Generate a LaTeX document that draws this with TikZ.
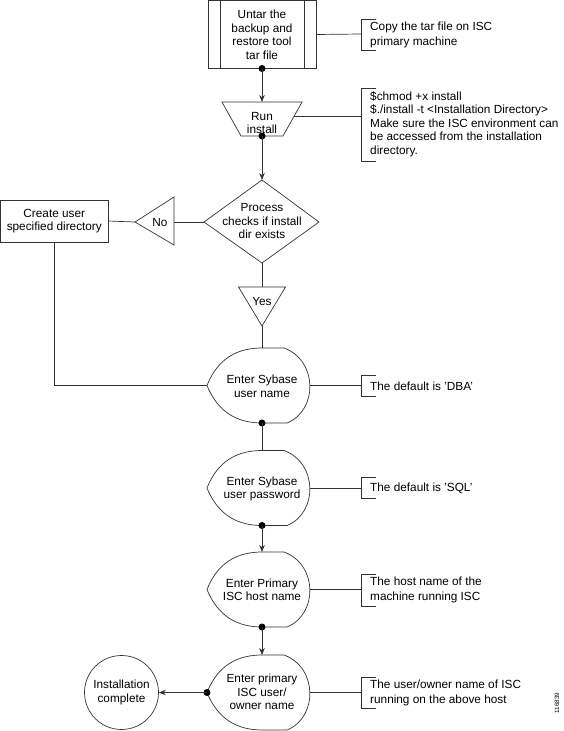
\documentclass[tikz,border=0pt]{standalone}
\usepackage{fontspec}
\setmainfont{Liberation Sans}
\usetikzlibrary{arrows.meta}
\newcommand\notebrk[2]{\draw[ln] (376,#1) -- (361,#1) -- (361,#2) -- (376,#2);}
\begin{document}
\begin{tikzpicture}[x=1pt,y=-1pt,
  ln/.style={draw=black!80,line width=0.7pt},
  txt/.style={font=\fontsize{11.8}{13.5}\selectfont,align=center,inner sep=0pt},
  notetxt/.style={font=\fontsize{11.8}{13.5}\selectfont,align=left,anchor=west,inner sep=0pt},
  notetxtw/.style={font=\fontsize{11.8}{14.5}\selectfont,align=left,anchor=west,inner sep=0pt},
  arr/.style={ln,-{Stealth[length=7pt,width=5.5pt]}},
  dotn/.style={circle,fill=black,inner sep=0pt,minimum size=7pt},
  egg/.pic={
    \draw[ln] (0,-37.5) -- (22,-37.5) .. controls (56,-25) and (56,25) .. (25,37.5) -- (0,37.5)
      .. controls (-32,37.5) and (-47,19.5) .. (-55,0) .. controls (-47,-20) and (-32,-37.5) .. (0,-37.5) -- cycle;
    \coordinate (-top) at (0,-37.5);
    \coordinate (-bot) at (0,37.5);
    \coordinate (-left) at (-55,0);
    \coordinate (-right) at (47.9,0);
  }]
\useasboundingbox (0,0) rectangle (563,731);

% Untar box
\node (untar) at (262,34.5) [txt,draw=black!80,line width=0.7pt,minimum width=108pt,minimum height=68pt] {};
\node (untart) at (262,35) [txt] {Untar the\\backup and\\restore tool\\tar file};
\draw[ln] ([xshift=13pt]untar.north west) -- ([xshift=13pt]untar.south west);
\draw[ln] ([xshift=-12pt]untar.north east) -- ([xshift=-12pt]untar.south east);
\node (d1) at (262,68.5) [dotn] {};

% Run install trapezoid
\draw[ln] (222,102) -- (302,102) -- (283,136) -- (241,136) -- cycle;
\node (run) at (262,123) [txt] {Run\\install};
\coordinate (runT) at (262,102);
\coordinate (runR) at (294,116);
\node (d2) at (262,136) [dotn] {};

% Diamond
\draw[ln] (262,180) -- (319,222) -- (262,263) -- (204,222) -- cycle;
\node (proc) at (262,221) [txt] {Process\\checks if install\\dir exists};
\coordinate (dT) at (262,180);
\coordinate (dL) at (204,222);
\coordinate (dB) at (262,263);

% No triangle
\draw[ln] (135,222) -- (174,197) -- (174,245) -- cycle;
\node (no) at (160,222) [txt] {No};
\coordinate (noR) at (174,222);
\coordinate (noL) at (135,222);

% Create user box
\node (create) at (54.3,221) [txt,draw=black!80,line width=0.7pt,minimum width=107.5pt,minimum height=42pt] {Create user\\specified directory};

% Yes triangle
\draw[ln] (238.5,287) -- (285.5,287) -- (262,326) -- cycle;
\node (yes) at (262,301) [txt] {Yes};
\coordinate (yesT) at (262,287);
\coordinate (yesB) at (262,326);

% Eggs
\pic (s1) at (262,385.5) {egg};
\node (s1t) at (262,386.5) [txt] {Enter Sybase\\user name};
\pic (s2) at (262,488) {egg};
\node (s2t) at (262,489) [txt] {Enter Sybase\\user password};
\pic (s3) at (262,589.5) {egg};
\node (s3t) at (262,590) [txt] {Enter Primary\\ISC host name};
\pic (s4) at (262,692.5) {egg};
\node (s4t) at (262,692) [txt] {Enter primary\\ISC user/\\owner name};

\node (d3) at (s1-bot) [dotn] {};
\node (d4) at (s2-bot) [dotn] {};
\node (d5) at (s3-bot) [dotn] {};
\node (d6) at (s4-left) [dotn] {};

% Done circle
\node (done) at (121.5,692.5) [txt,circle,draw=black!80,line width=0.7pt,minimum size=74pt] {Installation\\complete};

% Notes
\notebrk{19}{50}
\coordinate (b1) at (361,34);
\node (n1) at (370,35) [notetxtw] {Copy the tar file on ISC\\primary machine};
\notebrk{88}{161}
\coordinate (b2) at (361,116);
\node (n2) at (370,124) [notetxt] {\$chmod +x install\\\$./install -t <Installation Directory>\\Make sure the ISC environment can\\be accessed from the installation\\directory.};
\notebrk{375}{396}
\coordinate (b3) at (361,385.5);
\node (n3) at (370,386) [notetxt] {The default is 'DBA'};
\notebrk{477}{498}
\coordinate (b4) at (361,488);
\node (n4) at (370,488) [notetxt] {The default is 'SQL'};
\notebrk{574}{606}
\coordinate (b5) at (361,589.5);
\node (n5) at (370,590) [notetxtw] {The host name of the\\machine running ISC};
\notebrk{677}{708}
\coordinate (b6) at (361,692.5);
\node (n6) at (370,693) [notetxtw] {The user/owner name of ISC\\running on the above host};

% Connectors
\draw[arr] (d1.center) -- (runT);
\draw[arr] (d2.center) -- (dT);
\draw[ln] (dL) -- (noR);
\draw[ln] (noL) -- (create.east);
\draw[ln] (dB) -- (yesT);
\draw[ln] (yesB) -- (s1-top);
\draw[ln] (create.south) |- (s1-left);
\draw[ln] (d3.center) -- (s2-top);
\draw[arr] (d4.center) -- (s3-top);
\draw[arr] (d5.center) -- (s4-top);
\draw[arr] (d6.center) -- (done.east);
\draw[ln] (untar.east) -- (b1);
\draw[ln] (runR) -- (b2);
\draw[ln] (s1-right) -- (b3);
\draw[ln] (s2-right) -- (b4);
\draw[ln] (s3-right) -- (b5);
\draw[ln] (s4-right) -- (b6);

\node (id) at (557,703) [rotate=90,font=\fontsize{6.3}{7}\selectfont,inner sep=0pt] {116839};
\end{tikzpicture}
\end{document}
